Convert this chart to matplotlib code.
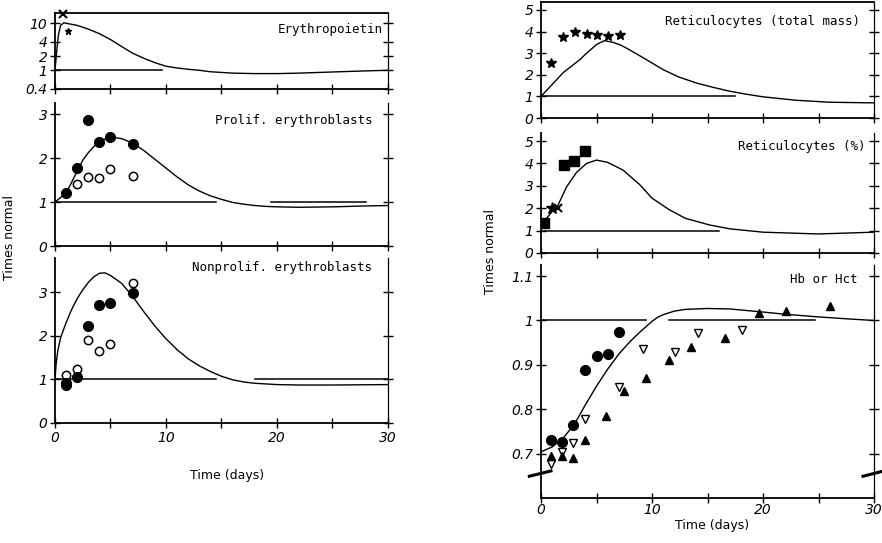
import matplotlib
matplotlib.use("Agg")
import matplotlib.pyplot as plt
import matplotlib.transforms as mtransforms

# ---------------- data ----------------
# Erythropoietin (log scale)
epo_curve_t = [0, 0.15, 0.3, 0.5, 0.8, 1, 2, 3, 4, 5, 6, 7, 8, 9, 10, 11, 12, 13, 14, 16, 18, 20, 22, 25, 28, 30]
epo_curve_v = [1, 2.5, 5.5, 9.0, 10.2, 10.0, 9.0, 7.5, 6.0, 4.5, 3.2, 2.3, 1.8, 1.45, 1.22, 1.12, 1.05, 1.0, 0.93, 0.87, 0.85, 0.85, 0.87, 0.92, 0.97, 1.0]
epo_x_t = [0.7]
epo_x_v = [15.5]
epo_star_t = [1.2]
epo_star_v = [7.0]

# Proliferating erythroblasts
prol_curve_t = [0, 0.5, 1, 1.5, 2, 2.5, 3, 3.5, 4, 4.5, 5, 5.5, 6, 7, 8, 9, 10, 11, 12, 13, 14, 15, 16, 17, 18, 19, 20, 22, 25, 28, 30]
prol_curve_v = [1, 1.1, 1.2, 1.45, 1.7, 1.95, 2.12, 2.26, 2.36, 2.43, 2.46, 2.46, 2.44, 2.34, 2.17, 1.97, 1.77, 1.57, 1.39, 1.25, 1.14, 1.06, 0.99, 0.95, 0.92, 0.9, 0.89, 0.88, 0.89, 0.91, 0.92]
prol_fill_t = [1, 2, 3, 4, 5, 7]
prol_fill_v = [1.2, 1.77, 2.86, 2.36, 2.48, 2.32]
prol_open_t = [2, 3, 4, 5, 7]
prol_open_v = [1.41, 1.57, 1.55, 1.75, 1.59]

# Nonproliferating erythroblasts
nonp_curve_t = [0, 0.1, 0.25, 0.5, 1, 1.5, 2, 2.5, 3, 3.5, 4, 4.5, 5, 6, 7, 8, 9, 10, 11, 12, 13, 14, 15, 16, 17, 18, 20, 22, 25, 30]
nonp_curve_v = [1.0, 1.35, 1.65, 1.95, 2.3, 2.6, 2.85, 3.05, 3.22, 3.35, 3.43, 3.44, 3.38, 3.2, 2.9, 2.55, 2.22, 1.93, 1.68, 1.47, 1.31, 1.18, 1.07, 0.99, 0.94, 0.91, 0.88, 0.87, 0.87, 0.88]
nonp_fill_t = [1, 1, 2, 3, 4, 5, 7]
nonp_fill_v = [0.92, 0.88, 1.05, 2.22, 2.7, 2.74, 2.97]
nonp_open_t = [1, 2, 3, 4, 5, 7]
nonp_open_v = [1.1, 1.24, 1.9, 1.65, 1.81, 3.2]

# Reticulocytes (total mass)
rtm_curve_t = [0, 1, 2, 3, 3.5, 4, 5, 5.7, 6.5, 7.2, 8, 9.5, 11, 12.4, 14, 15.5, 17, 18.5, 20, 23, 26, 30]
rtm_curve_v = [1.0, 1.55, 2.1, 2.5, 2.7, 2.95, 3.4, 3.58, 3.5, 3.37, 3.15, 2.7, 2.24, 1.9, 1.62, 1.42, 1.24, 1.1, 0.98, 0.82, 0.73, 0.7]
rtm_star_t = [0.9, 2.0, 3.1, 4.1, 5.0, 6.0, 7.1]
rtm_star_v = [2.55, 3.75, 3.98, 3.9, 3.84, 3.8, 3.84]

# Reticulocytes (%)
rtp_curve_t = [0, 0.5, 1, 1.4, 2.3, 3.2, 4.1, 5, 6, 7.4, 8.9, 10, 11.5, 13, 15.2, 17, 20, 25, 30]
rtp_curve_v = [1.2, 1.55, 1.85, 2.0, 2.95, 3.6, 4.0, 4.15, 4.05, 3.7, 3.05, 2.45, 1.95, 1.55, 1.25, 1.08, 0.93, 0.85, 0.93]
rtp_sq_t = [0.3, 2.1, 3.0, 4.0]
rtp_sq_v = [1.35, 3.95, 4.1, 4.55]
rtp_star_t = [1.0]
rtp_star_v = [2.0]
rtp_x_t = [1.5]
rtp_x_v = [2.0]

# Hb or Hct
hb_curve_t = [0, 1, 2, 3, 4, 5, 6, 7, 8, 9, 10, 10.5, 11, 12, 13, 15, 17, 20, 22, 25, 28, 30]
hb_curve_v = [0.704, 0.715, 0.735, 0.766, 0.81, 0.852, 0.89, 0.924, 0.952, 0.976, 0.998, 1.007, 1.013, 1.021, 1.025, 1.027, 1.026, 1.019, 1.014, 1.008, 1.003, 1.0]
hb_circ_t = [0.9, 1.9, 2.9, 4.0, 5.0, 6.0, 7.0]
hb_circ_v = [0.73, 0.726, 0.765, 0.888, 0.92, 0.925, 0.975]
hb_open_t = [0.9, 1.9, 2.9, 4.0, 7.0, 9.2, 12.1, 14.1, 18.1]
hb_open_v = [0.677, 0.703, 0.724, 0.778, 0.849, 0.935, 0.93, 0.971, 0.978]
hb_tri_t = [0.9, 1.9, 2.9, 4.0, 5.9, 7.5, 9.5, 11.5, 13.5, 16.6, 19.6, 22.1, 26.0]
hb_tri_v = [0.695, 0.695, 0.691, 0.73, 0.784, 0.84, 0.87, 0.912, 0.94, 0.96, 1.017, 1.022, 1.032]

days_ticks = [0, 5, 10, 15, 20, 25, 30]
days_labels = ["0", "", "10", "", "20", "", "30"]

# ---------------- figure ----------------
W, H = 882, 543
fig = plt.figure(figsize=(W / 100, H / 100), dpi=100)
plt.rcParams['font.family'] = ['DejaVu Sans']

TICKFONT = dict(fontsize=10, fontstyle='italic')
TITLEFONT = dict(fontsize=9, family='DejaVu Sans Mono')


def ax_at(left, top, right, bottom):
    return fig.add_axes([left / W, 1 - bottom / H, (right - left) / W, (bottom - top) / H])


def style(ax, ylim, yticks, ylabels, top=False, xlabels=False, log=False, xpad=2):
    if log:
        ax.set_yscale('log')
    ax.set_xlim(0, 30)
    ax.set_ylim(*ylim)
    ax.set_xticks(days_ticks)
    ax.set_xticklabels(days_labels if xlabels else [""] * len(days_ticks), **TICKFONT)
    ax.set_yticks(yticks)
    ax.set_yticklabels(ylabels, **TICKFONT)
    ax.minorticks_off()
    for s in ['left', 'bottom']:
        ax.spines[s].set_linewidth(1.3)
    ax.spines['right'].set_linewidth(0.9)
    ax.spines['top'].set_visible(top)
    ax.spines['top'].set_linewidth(1.3)
    ax.tick_params(direction='inout', length=7, width=1.0, pad=2)
    ax.tick_params(axis='x', pad=xpad)
    ax.tick_params(axis='y', right=True)
    ax.yaxis.set_tick_params(which='major', labelright=False)
    ax.patch.set_alpha(0)


def ref_line(ax, segs, y=1.0):
    for a, b in segs:
        ax.plot([a, b], [y, y], color='black', lw=1.1)


def title(ax, txt, x, y):
    ax.text(x, y, txt, transform=ax.transAxes, ha='right', va='center', **TITLEFONT)


LX0, LX1 = 55, 388
RX0, RX1 = 541, 874

# Erythropoietin
ax = ax_at(LX0, 13, LX1, 89)
style(ax, (0.4, 16.5), [0.4, 1, 2, 4, 10], ["0.4", "1", "2", "4", "10"], top=True, log=True)
ref_line(ax, [(0, 9.6)])
ax.plot(epo_curve_t, epo_curve_v, color='black', lw=1.0)
ax.plot(epo_x_t, epo_x_v, 'x', color='black', ms=6, mew=1.5, clip_on=False)
ax.plot(epo_star_t, epo_star_v, '*', color='black', ms=5)
title(ax, "Erythropoietin", 0.985, 0.78)

# Proliferating erythroblasts
ax = ax_at(LX0, 103, LX1, 246)
style(ax, (0, 3.25), [0, 1, 2, 3], ["0", "1", "2", "3"])
ref_line(ax, [(0, 14.5), (19.5, 28)])
ax.plot(prol_curve_t, prol_curve_v, color='black', lw=1.0)
ax.plot(prol_fill_t, prol_fill_v, 'o', color='black', ms=7)
ax.plot(prol_open_t, prol_open_v, 'o', mfc='white', mec='black', ms=6, mew=1.1)
title(ax, "Prolif. erythroblasts", 0.952, 0.88)

# Nonproliferating erythroblasts
ax = ax_at(LX0, 258, LX1, 423)
style(ax, (0, 3.78), [0, 1, 2, 3], ["0", "1", "2", "3"], xlabels=True)
ref_line(ax, [(0, 14.5), (18, 30)])
ax.plot(nonp_curve_t, nonp_curve_v, color='black', lw=1.0)
ax.plot(nonp_open_t, nonp_open_v, 'o', mfc='white', mec='black', ms=6, mew=1.1)
ax.plot(nonp_fill_t, nonp_fill_v, 'o', color='black', ms=7)
title(ax, "Nonprolif. erythroblasts", 0.952, 0.94)

# Reticulocytes total mass
ax = ax_at(RX0, 2, RX1, 118)
style(ax, (0, 5.37), [0, 1, 2, 3, 4, 5], ["0", "1", "2", "3", "4", "5"], top=True)
ref_line(ax, [(0, 17.5)])
ax.plot(rtm_curve_t, rtm_curve_v, color='black', lw=1.0)
ax.plot(rtm_star_t, rtm_star_v, '*', color='black', ms=7)
title(ax, "Reticulocytes (total mass)", 0.958, 0.83)

# Reticulocytes %
ax = ax_at(RX0, 133, RX1, 253)
style(ax, (0, 5.36), [0, 1, 2, 3, 4, 5], ["0", "1", "2", "3", "4", "5"])
ref_line(ax, [(0, 16)])
ax.plot(rtp_curve_t, rtp_curve_v, color='black', lw=1.0)
ax.plot(rtp_sq_t, rtp_sq_v, 's', color='black', ms=7)
ax.plot(rtp_star_t, rtp_star_v, '*', color='black', ms=9)
ax.plot(rtp_x_t, rtp_x_v, 'x', color='black', ms=6, mew=1.5)
title(ax, "Reticulocytes (%)", 0.973, 0.89)

# Hb or Hct
ax = ax_at(RX0, 265, RX1, 498)
style(ax, (0.6, 1.125), [0.7, 0.8, 0.9, 1.0, 1.1], ["0.7", "0.8", "0.9", "1", "1.1"], xlabels=True, xpad=0)
ref_line(ax, [(0, 9.5), (11.5, 24.7)])
ax.plot(hb_curve_t, hb_curve_v, color='black', lw=1.0)
ax.plot(hb_circ_t, hb_circ_v, 'o', color='black', ms=7)
ax.plot(hb_open_t, hb_open_v, 'v', mfc='white', mec='black', ms=6, mew=1.0)
ax.plot(hb_tri_t, hb_tri_v, '^', color='black', ms=6)
title(ax, "Hb or Hct", 0.95, 0.936)
blend = mtransforms.blended_transform_factory(ax.transAxes, ax.transData)
ax.plot([-0.035, 0.03], [0.649, 0.661], transform=blend, clip_on=False, color='black', lw=2.2)
ax.plot([0.967, 1.03], [0.649, 0.661], transform=blend, clip_on=False, color='black', lw=2.2)

# axis labels
fig.text(227 / W, 1 - 475 / H, "Time (days)", ha='center', va='center', fontsize=9)
fig.text(712 / W, 1 - 526 / H, "Time (days)", ha='center', va='center', fontsize=9)
fig.text(10 / W, 1 - 238 / H, "Times normal", rotation=90, ha='center', va='center', fontsize=9)
fig.text(490 / W, 1 - 252 / H, "Times normal", rotation=90, ha='center', va='center', fontsize=9)

fig.savefig("out.png", dpi=100)
